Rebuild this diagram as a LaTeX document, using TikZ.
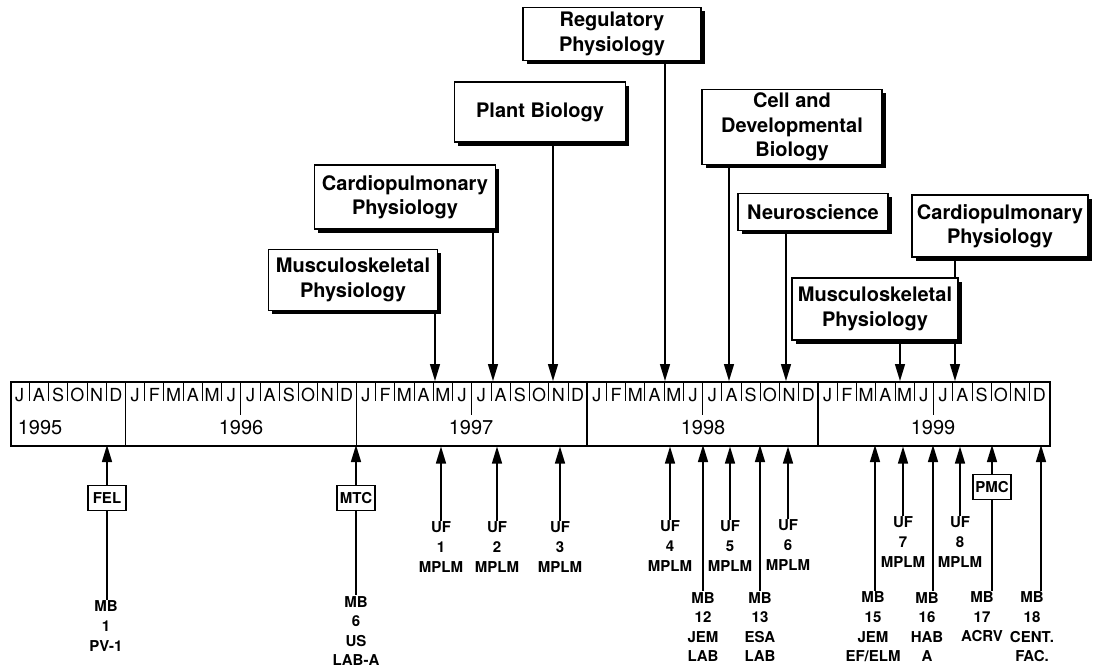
\documentclass[tikz,border=0pt]{standalone}
\usepackage{fontspec}
\setmainfont{TeX Gyre Heros}
\usetikzlibrary{arrows.meta,shadows,backgrounds}

\begin{document}
\begin{tikzpicture}[x=1pt,y=-1pt,
  topic/.style={draw,line width=1.4pt,fill=white,align=center,inner sep=0pt,
    font=\fontsize{20}{24.5}\selectfont\bfseries,
    general shadow={fill=black,shadow xshift=3.5pt,shadow yshift=-3.5pt}},
  tag/.style={draw,line width=1.8pt,fill=white,inner sep=0pt,minimum width=38pt,
    minimum height=25pt,font=\fontsize{15}{15}\selectfont\bfseries},
  lbl/.style={align=center,inner sep=1pt,font=\fontsize{15}{19.6}\selectfont\bfseries},
  arr/.style={line width=1.4pt,-{Triangle[width=10pt,length=17pt]}},
  mon/.style={inner sep=0pt,font=\fontsize{18}{18}\selectfont},
  yr/.style={inner sep=0pt,font=\fontsize{20}{20}\selectfont}]
\useasboundingbox (0,0) rectangle (1093,670);

\node[draw,line width=1.5pt,minimum width=1039pt,minimum height=64pt,inner sep=0pt,anchor=north west] (bar) at (10,381) {};
\foreach \m [count=\i from 0] in {J,A,S,O,N,D,J,F,M,A,M,J,J,A,S,O,N,D,J,F,M,A,M,J,J,A,S,O,N,D,J,F,M,A,M,J,J,A,S,O,N,D,J,F,M,A,M,J,J,A,S,O,N,D}
  \node[mon] (m\i) at ({10+(\i+0.5)*19.24},395) {\m};
\foreach \k in {1,...,53}
  \draw[line width=0.9pt] ({10+\k*19.24},381) -- ++(0,20);
\foreach \k in {12,24,36,48}
  \draw[line width=1.1pt] ({10+\k*19.24},381) -- ++(0,34);
\foreach \k in {6,18,30,42}
  \draw[line width=1.5pt] ({10+\k*19.24},381) -- ++(0,64);
\node[yr] (y95) at (40,428) {1995};
\node[yr] (y96) at (241,428) {1996};
\node[yr] (y97) at (471,428) {1997};
\node[yr] (y98) at (703,428) {1998};
\node[yr] (y99) at (933,428) {1999};

\node[topic,minimum width=169pt,minimum height=61pt] (mus97) at (353,280) {Musculoskeletal\\Physiology};
\node[topic,minimum width=181pt,minimum height=64pt] (car97) at (405,197) {Cardiopulmonary\\Physiology};
\node[topic,minimum width=171pt,minimum height=60pt] (plant) at (540,112) {Plant Biology};
\node[topic,minimum width=178pt,minimum height=53pt] (reg) at (612,34) {Regulatory\\Physiology};
\node[topic,minimum width=180pt,minimum height=75pt] (cell) at (792,127) {Cell and\\Developmental\\Biology};
\node[topic,minimum width=150pt,minimum height=37pt] (neuro) at (813,212) {Neuroscience};
\node[topic,minimum width=176pt,minimum height=62pt] (car99) at (1000,226) {Cardiopulmonary\\Physiology};
\node[topic,minimum width=166pt,minimum height=62pt] (mus99) at (875,309) {Musculoskeletal\\Physiology};

\coordinate (tmus97) at (435,381);
\coordinate (tcar97) at (493,381);
\coordinate (tplant) at (553,381);
\coordinate (treg) at (665,381);
\coordinate (tcell) at (729,381);
\coordinate (tneuro) at (786,381);
\coordinate (tmus99) at (900,381);
\coordinate (tcar99) at (955,381);
\begin{pgfonlayer}{background}
\draw[arr] (mus97.south -| tmus97) -- (tmus97);
\draw[arr] (car97.south -| tcar97) -- (tcar97);
\draw[arr] (plant.south -| tplant) -- (tplant);
\draw[arr] (reg.south -| treg) -- (treg);
\draw[arr] (cell.south -| tcell) -- (tcell);
\draw[arr] (neuro.south -| tneuro) -- (tneuro);
\draw[arr] (mus99.south -| tmus99) -- (tmus99);
\draw[arr] (car99.south -| tcar99) -- (tcar99);
\end{pgfonlayer}

\node[tag] (fel) at (107,498) {FEL};
\node[tag] (mtc) at (356,498) {MTC};
\node[tag] (pmc) at (992,487) {PMC};
\node[lbl] (mb1) at (106,626) {MB\\1\\PV-1};
\node[lbl] (mb6) at (356,631) {MB\\6\\US\\LAB-A};
\node[lbl] (uf1) at (441,547) {UF\\1\\MPLM};
\node[lbl] (uf2) at (497,547) {UF\\2\\MPLM};
\node[lbl] (uf3) at (560,547) {UF\\3\\MPLM};
\node[lbl] (uf4) at (670,546) {UF\\4\\MPLM};
\node[lbl] (mb12) at (703,627) {MB\\12\\JEM\\LAB};
\node[lbl] (uf5) at (730,546) {UF\\5\\MPLM};
\node[lbl] (mb13) at (760,627) {MB\\13\\ESA\\LAB};
\node[lbl] (uf6) at (788,545) {UF\\6\\MPLM};
\node[lbl] (mb15) at (873,627) {MB\\15\\JEM\\EF/ELM};
\node[lbl] (uf7) at (903,542) {UF\\7\\MPLM};
\node[lbl] (mb16) at (927,627) {MB\\16\\HAB\\A};
\node[lbl] (uf8) at (960,542) {UF\\8\\MPLM};
\node[lbl] (mb17) at (982,617) {MB\\17\\ACRV};
\node[lbl] (mb18) at (1032,627) {MB\\18\\CENT.\\FAC.};

\coordinate (bfel) at (107,445);
\coordinate (bmtc) at (356,445);
\coordinate (bmb12) at (703,445);
\coordinate (bmb13) at (760,445);
\coordinate (bmb15) at (875,445);
\coordinate (bmb16) at (933,445);
\coordinate (bpmc) at (992,445);
\coordinate (bmb18) at (1041,445);
\draw[arr] (fel) -- (bfel);
\draw[line width=1.4pt] (fel.south) -- (fel.south |- mb1.north);
\draw[arr] (mtc) -- (bmtc);
\draw[line width=1.4pt] (mtc.south) -- (mtc.south |- mb6.north);
\draw[arr] (uf1.north) -- (uf1.north |- bar.south);
\draw[arr] (uf2.north) -- (uf2.north |- bar.south);
\draw[arr] (uf3.north) -- (uf3.north |- bar.south);
\draw[arr] (uf4.north) -- (uf4.north |- bar.south);
\draw[arr] (mb12.north -| bmb12) -- (bmb12);
\draw[arr] (uf5.north) -- (uf5.north |- bar.south);
\draw[arr] (mb13.north -| bmb13) -- (bmb13);
\draw[arr] (uf6.north) -- (uf6.north |- bar.south);
\draw[arr] (mb15.north -| bmb15) -- (bmb15);
\draw[arr] (uf7.north) -- (uf7.north |- bar.south);
\draw[arr] (mb16.north -| bmb16) -- (bmb16);
\draw[arr] (uf8.north) -- (uf8.north |- bar.south);
\draw[arr] (pmc) -- (bpmc);
\draw[line width=1.4pt] (pmc.south) -- (pmc.south |- mb17.north);
\draw[arr] (mb18.north -| bmb18) -- (bmb18);
\end{tikzpicture}
\end{document}
